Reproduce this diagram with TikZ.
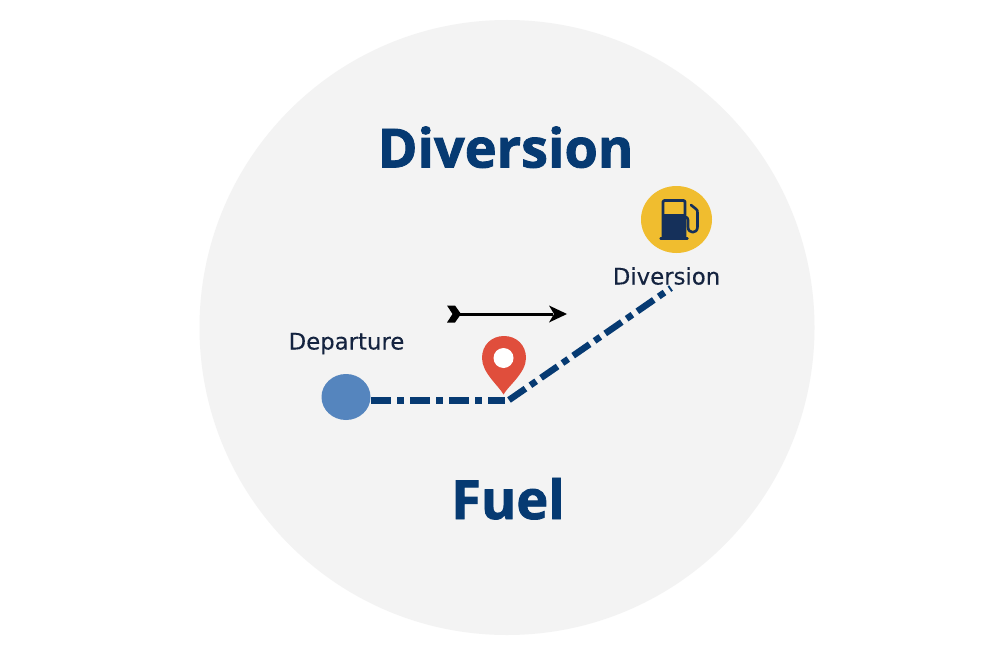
\documentclass[tikz,border=0pt]{standalone}
\usepackage{fontspec}
\usetikzlibrary{shapes.geometric}
\setmainfont{DejaVu Sans}
\newfontfamily\labelfont{DejaVu Sans}[FakeBold=0.25]
\newfontfamily\headfont{Open Sans}[UprightFeatures={FakeBold=1.6},BoldFeatures={FakeBold=1.6}]
\definecolor{navy}{HTML}{063A72}
\definecolor{inkc}{HTML}{14233F}
\definecolor{disc}{HTML}{F3F3F3}
\definecolor{depc}{HTML}{5585BE}
\definecolor{pinc}{HTML}{E04E3C}
\definecolor{fuelc}{HTML}{F0BD2F}
\definecolor{pumpc}{HTML}{15305A}
\tikzset{
  heading/.style={font=\headfont\fontsize{54}{54}\selectfont\bfseries,text=navy,inner sep=0pt,anchor=base},
  placelabel/.style={font=\labelfont\fontsize{22.8}{24}\selectfont,text=inkc,inner sep=0pt,anchor=base},
  routeline/.style={draw=navy,line width=6.5pt,dash pattern=on 20pt off 6pt on 7pt off 6pt},
}
\begin{document}
\begin{tikzpicture}[x=1pt,y=-1pt]
\useasboundingbox (0,0) rectangle (1000,655);
\fill[white] (0,0) rectangle (1000,655);
\fill[disc] (507,327.5) circle [radius=307.5];
\node[heading] (t1) at (505.5,167.5) {Diversion};
\node[heading] (t2) at (508,519) {Fuel};
\node[placelabel] (dep) at (346.5,349.5) {Departure};
\node[placelabel] (div) at (666.5,284.5) {Diversion};
% departure point
\node[draw=none,fill=depc,ellipse,minimum width=49pt,minimum height=46pt,inner sep=0pt] (start) at (346,397) {};
% route
\coordinate (a) at (371,400.5);
\coordinate (b) at (505,400.5);
\coordinate (c) at (509,400);
\coordinate (d) at (671,288);
\draw[routeline] (a) -- (b);
\draw[routeline] (c) -- (d);
% arrow
\coordinate (ta) at (456,314);
\coordinate (tb) at (553,314);
\draw[black,line width=3pt] (ta) -- (tb);
\fill[black] (447,305.5) -- (455,305.5) -- (461,314) -- (455,322.5) -- (447,322.5) -- (452.5,314) -- cycle;
\fill[black] (567,314) -- (549,305.5) -- (554,314) -- (549,322.5) -- cycle;
% pin
\fill[pinc] (503.5,394.5) .. controls (499,386) and (482,373) .. (482,358)
  .. controls (482,345) and (491.5,336) .. (504,336)
  .. controls (516.5,336) and (526,345) .. (526,358)
  .. controls (526,373) and (508,386) .. (503.5,394.5) -- cycle;
\fill[white] (503.5,358) circle [radius=10];
% fuel icon
\node[fill=fuelc,ellipse,minimum width=71pt,minimum height=67pt,inner sep=0pt] (fuel) at (676.5,219.5) {};
\draw[pumpc,line width=2.8pt,line join=round] (663,238) -- (663,202) .. controls (663,200.5) and (664,200.5) .. (666,200.5) -- (682,200.5) .. controls (684,200.5) and (685,200.5) .. (685,202) -- (685,238);
\fill[pumpc] (663,214) rectangle (685,238);
\draw[pumpc,line width=2.4pt,line cap=round] (660.5,238.5) -- (687.5,238.5);
\draw[pumpc,line width=2.6pt,line cap=round,line join=round] (691,205) -- (696,209) .. controls (697.5,210) and (697.5,211) .. (697.5,213) -- (697.5,227) .. controls (697.5,234) and (688,234) .. (688,227) -- (688,220) .. controls (688,218) and (687,217) .. (685,217);
\end{tikzpicture}
\end{document}
